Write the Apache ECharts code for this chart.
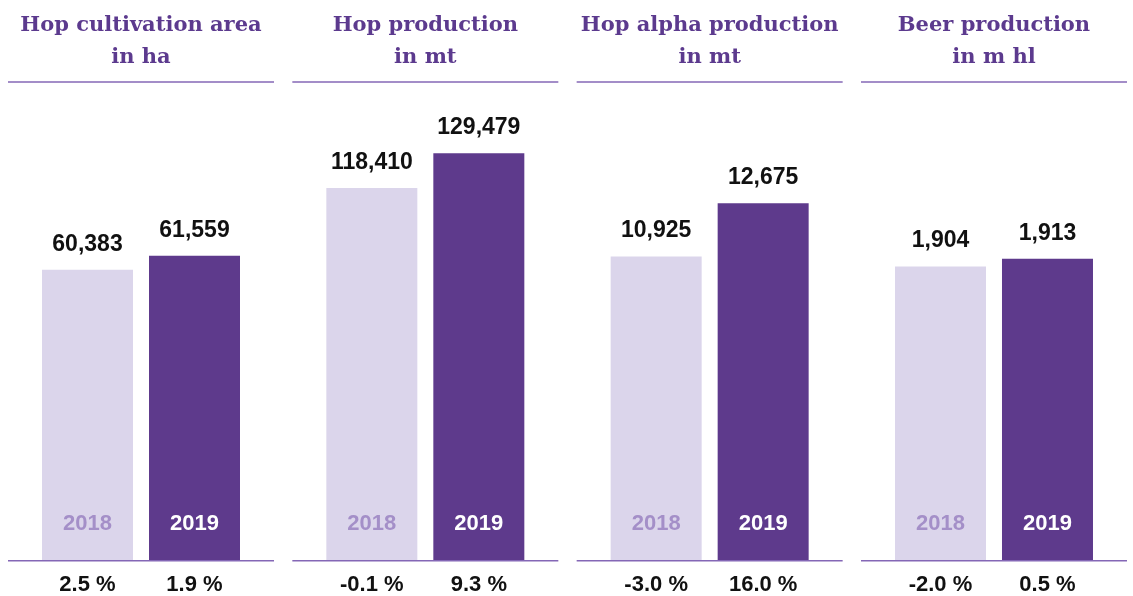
<!DOCTYPE html>
<html>
<head>
<meta charset="utf-8">
<script src="https://cdn.jsdelivr.net/npm/echarts@6/dist/echarts.min.js"></script>
<style>
html,body{margin:0;padding:0;background:#fff;}
#c{width:1133px;height:596px;}
</style>
</head>
<body>
<div id="c"></div>
<script>
// ---- data ----
const panelTitles = ['Hop cultivation area\nin ha', 'Hop production\nin mt', 'Hop alpha production\nin mt', 'Beer production\nin m hl'];
const years = ['2018', '2019'];
const values2018 = [60383, 118410, 10925, 1904];
const values2019 = [61559, 129479, 12675, 1913];
const change2018 = ['2.5 %', '-0.1 %', '-3.0 %', '-2.0 %'];
const change2019 = ['1.9 %', '9.3 %', '16.0 %', '0.5 %'];

// ---- scale ranges per panel (visual scaling as in the reference) ----
const yMin = [35965, 0, 962, 1560.4];
const yMax = [74663, 146389, 16060, 2098.9];

const LIGHT = '#dbd5eb', DARK = '#5e3a8c', LINE = '#8467b6', TITLE = '#5c3a8e';
const panelW = 266, step = 284.33, x0 = 8, baseY = 560.7, gridTop = 100;

const grids = [], xAxes = [], yAxes = [], series = [], graphics = [];
const fmt = v => v.toLocaleString('en-US');

for (let i = 0; i < 4; i++) {
  const start = x0 + step * i;
  grids.push({left: start + 26, width: 214, top: gridTop, height: baseY - gridTop, containLabel: false});
  xAxes.push({
    gridIndex: i, type: 'category', data: years, position: 'bottom', z: 10,
    axisLine: {show: false}, axisTick: {show: false}, splitLine: {show: false},
    axisLabel: {
      inside: true, margin: 25,
      formatter: v => v === '2018' ? '{a|' + v + '}' : '{b|' + v + '}',
      rich: {
        a: {color: '#a48fc8', fontSize: 22, fontWeight: 'bold', fontFamily: 'Liberation Sans'},
        b: {color: '#ffffff', fontSize: 22, fontWeight: 'bold', fontFamily: 'Liberation Sans'}
      }
    }
  });
  xAxes.push({
    gridIndex: i, type: 'category', data: [change2018[i], change2019[i]], position: 'bottom',
    axisLine: {show: false}, axisTick: {show: false}, splitLine: {show: false},
    axisLabel: {margin: 14, color: '#111', fontSize: 22, fontWeight: 'bold', fontFamily: 'Liberation Sans'}
  });
  yAxes.push({gridIndex: i, type: 'value', min: yMin[i], max: yMax[i], show: false, splitLine: {show: false}});
  series.push({
    type: 'bar', xAxisIndex: 2 * i, yAxisIndex: i, barWidth: 91,
    data: [
      {value: values2018[i], itemStyle: {color: LIGHT}},
      {value: values2019[i], itemStyle: {color: DARK}}
    ],
    label: {
      show: true, position: 'top', distance: 14, formatter: p => fmt(p.value),
      color: '#111', fontSize: 23, fontWeight: 'bold', fontFamily: 'Liberation Sans'
    },
    silent: true, animation: false
  });
  graphics.push({
    type: 'text', x: start + panelW / 2, y: 42,
    style: {text: panelTitles[i], align: 'center', verticalAlign: 'middle', lineHeight: 32,
      font: 'bold 21px "DejaVu Serif"', fill: TITLE}
  });
  graphics.push({type: 'line', shape: {x1: start, y1: 82, x2: start + panelW, y2: 82}, style: {stroke: LINE, lineWidth: 1.5}});
  graphics.push({type: 'line', shape: {x1: start, y1: baseY, x2: start + panelW, y2: baseY}, style: {stroke: LINE, lineWidth: 1.5}, z: 100});
}

const chart = echarts.init(document.getElementById('c'), null, {renderer: 'canvas'});
chart.setOption({
  animation: false,
  grid: grids, xAxis: xAxes, yAxis: yAxes, series: series,
  graphic: graphics
});
</script>
</body>
</html>
